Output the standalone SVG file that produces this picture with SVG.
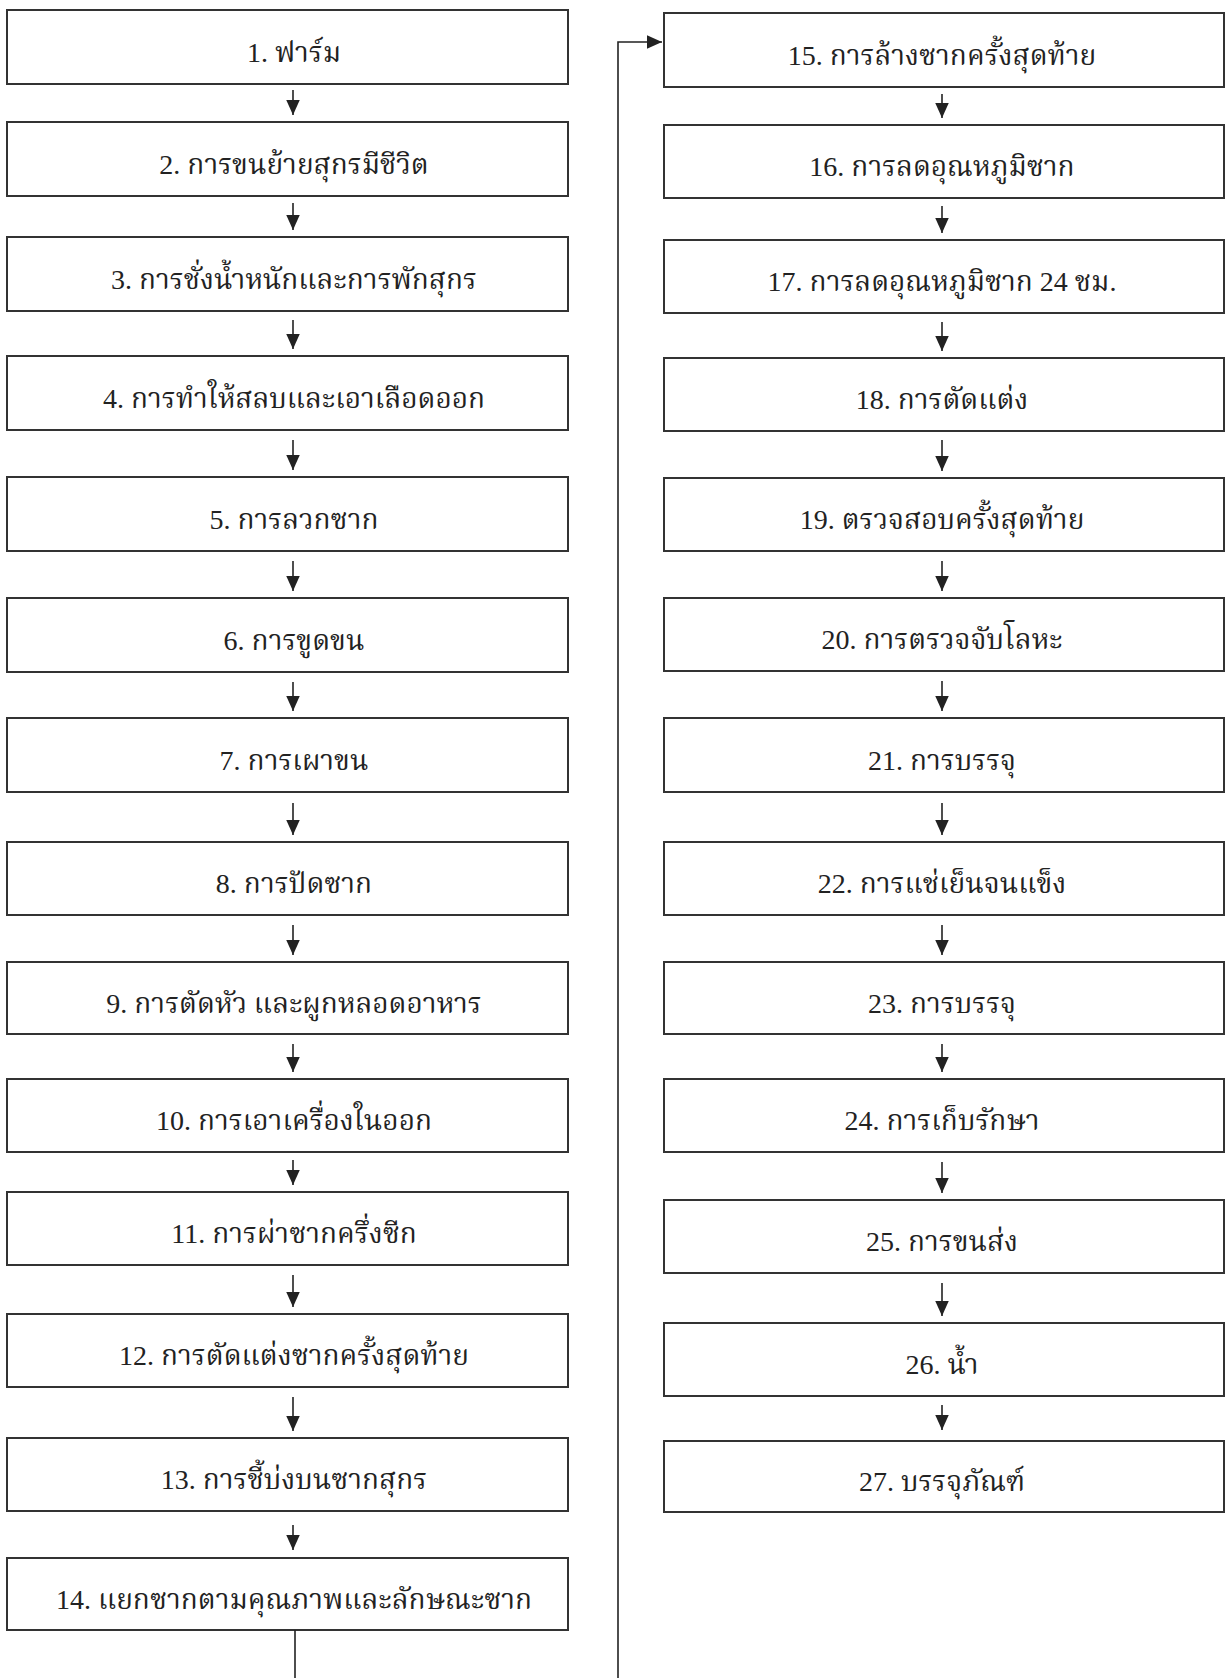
<svg xmlns="http://www.w3.org/2000/svg" width="1228" height="1678" viewBox="0 0 1228 1678">
<style>
.box{fill:#fff;stroke:#333;stroke-width:2}
.t{font-family:"Liberation Serif","Noto Serif Thai","Noto Sans Thai",serif;font-size:28px;fill:#222;text-anchor:middle}
.c{fill:none;stroke:#222;stroke-width:1.6}
</style>
<defs>
<marker id="ah" viewBox="0 0 10 10" refX="10" refY="5" markerWidth="16" markerHeight="15" markerUnits="userSpaceOnUse" orient="auto">
<path d="M0,0.5 L10,5 L0,9.5 Z" fill="#222"/>
</marker>
</defs>
<rect width="1228" height="1678" fill="#fff"/>
<g id="n1"><rect class="box" x="7" y="10" width="561" height="74"/><text class="t" x="294" y="62">1. ฟาร์ม</text></g>
<g id="n2"><rect class="box" x="7" y="122" width="561" height="74"/><text class="t" x="294" y="174">2. การขนย้ายสุกรมีชีวิต</text></g>
<g id="n3"><rect class="box" x="7" y="237" width="561" height="74"/><text class="t" x="294" y="289">3. การชั่งน้ำหนักและการพักสุกร</text></g>
<g id="n4"><rect class="box" x="7" y="356" width="561" height="74"/><text class="t" x="294" y="408">4. การทำให้สลบและเอาเลือดออก</text></g>
<g id="n5"><rect class="box" x="7" y="477" width="561" height="74"/><text class="t" x="294" y="529">5. การลวกซาก</text></g>
<g id="n6"><rect class="box" x="7" y="598" width="561" height="74"/><text class="t" x="294" y="650">6. การขูดขน</text></g>
<g id="n7"><rect class="box" x="7" y="718" width="561" height="74"/><text class="t" x="294" y="770">7. การเผาขน</text></g>
<g id="n8"><rect class="box" x="7" y="842" width="561" height="73"/><text class="t" x="294" y="893">8. การปัดซาก</text></g>
<g id="n9"><rect class="box" x="7" y="962" width="561" height="72"/><text class="t" x="294" y="1013">9. การตัดหัว และผูกหลอดอาหาร</text></g>
<g id="n10"><rect class="box" x="7" y="1079" width="561" height="73"/><text class="t" x="294" y="1130">10. การเอาเครื่องในออก</text></g>
<g id="n11"><rect class="box" x="7" y="1192" width="561" height="73"/><text class="t" x="294" y="1243">11. การผ่าซากครึ่งซีก</text></g>
<g id="n12"><rect class="box" x="7" y="1314" width="561" height="73"/><text class="t" x="294" y="1365">12. การตัดแต่งซากครั้งสุดท้าย</text></g>
<g id="n13"><rect class="box" x="7" y="1438" width="561" height="73"/><text class="t" x="294" y="1489">13. การชี้บ่งบนซากสุกร</text></g>
<g id="n14"><rect class="box" x="7" y="1558" width="561" height="72"/><text class="t" x="294" y="1609">14. แยกซากตามคุณภาพและลักษณะซาก</text></g>
<g id="n15"><rect class="box" x="664" y="13" width="560" height="74"/><text class="t" x="942" y="65">15. การล้างซากครั้งสุดท้าย</text></g>
<g id="n16"><rect class="box" x="664" y="125" width="560" height="73"/><text class="t" x="942" y="176">16. การลดอุณหภูมิซาก</text></g>
<g id="n17"><rect class="box" x="664" y="240" width="560" height="73"/><text class="t" x="942" y="291">17. การลดอุณหภูมิซาก 24 ชม.</text></g>
<g id="n18"><rect class="box" x="664" y="358" width="560" height="73"/><text class="t" x="942" y="409">18. การตัดแต่ง</text></g>
<g id="n19"><rect class="box" x="664" y="478" width="560" height="73"/><text class="t" x="942" y="529">19. ตรวจสอบครั้งสุดท้าย</text></g>
<g id="n20"><rect class="box" x="664" y="598" width="560" height="73"/><text class="t" x="942" y="649">20. การตรวจจับโลหะ</text></g>
<g id="n21"><rect class="box" x="664" y="718" width="560" height="74"/><text class="t" x="942" y="770">21. การบรรจุ</text></g>
<g id="n22"><rect class="box" x="664" y="842" width="560" height="73"/><text class="t" x="942" y="893">22. การแช่เย็นจนแข็ง</text></g>
<g id="n23"><rect class="box" x="664" y="962" width="560" height="72"/><text class="t" x="942" y="1013">23. การบรรจุ</text></g>
<g id="n24"><rect class="box" x="664" y="1079" width="560" height="73"/><text class="t" x="942" y="1130">24. การเก็บรักษา</text></g>
<g id="n25"><rect class="box" x="664" y="1200" width="560" height="73"/><text class="t" x="942" y="1251">25. การขนส่ง</text></g>
<g id="n26"><rect class="box" x="664" y="1323" width="560" height="73"/><text class="t" x="942" y="1374">26. น้ำ</text></g>
<g id="n27"><rect class="box" x="664" y="1441" width="560" height="71"/><text class="t" x="942" y="1491">27. บรรจุภัณฑ์</text></g>
<g id="connectors">
<line class="c" x1="293" y1="90" x2="293" y2="115" marker-end="url(#ah)"/>
<line class="c" x1="293" y1="203" x2="293" y2="230" marker-end="url(#ah)"/>
<line class="c" x1="293" y1="320" x2="293" y2="349" marker-end="url(#ah)"/>
<line class="c" x1="293" y1="440" x2="293" y2="470" marker-end="url(#ah)"/>
<line class="c" x1="293" y1="561" x2="293" y2="591" marker-end="url(#ah)"/>
<line class="c" x1="293" y1="682" x2="293" y2="711" marker-end="url(#ah)"/>
<line class="c" x1="293" y1="803" x2="293" y2="835" marker-end="url(#ah)"/>
<line class="c" x1="293" y1="925" x2="293" y2="955" marker-end="url(#ah)"/>
<line class="c" x1="293" y1="1044" x2="293" y2="1072" marker-end="url(#ah)"/>
<line class="c" x1="293" y1="1160" x2="293" y2="1185" marker-end="url(#ah)"/>
<line class="c" x1="293" y1="1275" x2="293" y2="1307" marker-end="url(#ah)"/>
<line class="c" x1="293" y1="1397" x2="293" y2="1431" marker-end="url(#ah)"/>
<line class="c" x1="293" y1="1525" x2="293" y2="1550" marker-end="url(#ah)"/>
<path class="c" d="M295,1630 V1700 H618 V42 H662" marker-end="url(#ah)"/>
<line class="c" x1="942" y1="94" x2="942" y2="118" marker-end="url(#ah)"/>
<line class="c" x1="942" y1="206" x2="942" y2="233" marker-end="url(#ah)"/>
<line class="c" x1="942" y1="322" x2="942" y2="351" marker-end="url(#ah)"/>
<line class="c" x1="942" y1="440" x2="942" y2="471" marker-end="url(#ah)"/>
<line class="c" x1="942" y1="561" x2="942" y2="591" marker-end="url(#ah)"/>
<line class="c" x1="942" y1="681" x2="942" y2="711" marker-end="url(#ah)"/>
<line class="c" x1="942" y1="803" x2="942" y2="835" marker-end="url(#ah)"/>
<line class="c" x1="942" y1="925" x2="942" y2="955" marker-end="url(#ah)"/>
<line class="c" x1="942" y1="1044" x2="942" y2="1072" marker-end="url(#ah)"/>
<line class="c" x1="942" y1="1162" x2="942" y2="1193" marker-end="url(#ah)"/>
<line class="c" x1="942" y1="1283" x2="942" y2="1316" marker-end="url(#ah)"/>
<line class="c" x1="942" y1="1405" x2="942" y2="1430" marker-end="url(#ah)"/>
</g>
</svg>
